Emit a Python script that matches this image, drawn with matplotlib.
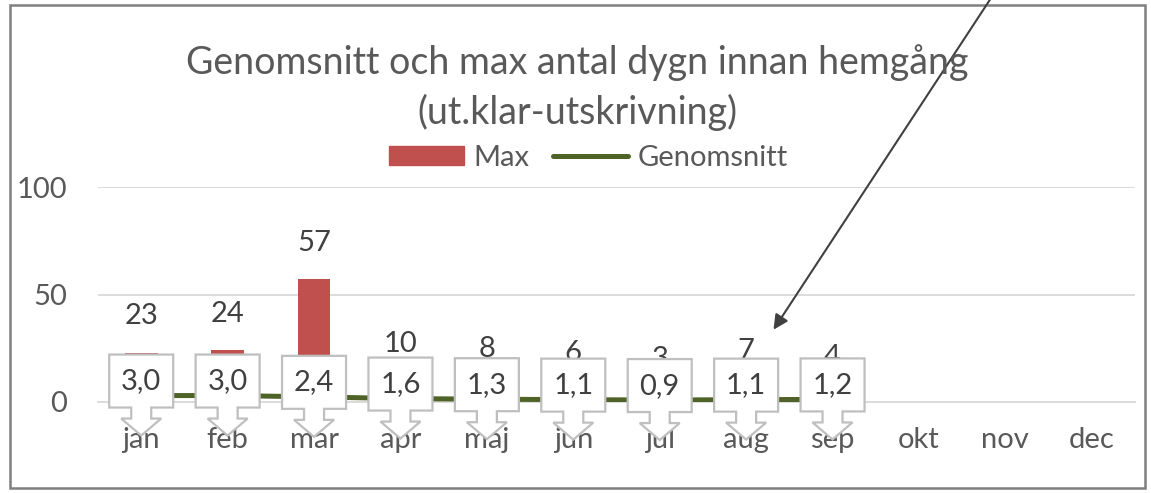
import matplotlib
matplotlib.use("Agg")
import matplotlib.pyplot as plt
import matplotlib.transforms as mtransforms
from matplotlib.patches import Polygon, Rectangle, FancyArrowPatch
from matplotlib.lines import Line2D

months = ["jan", "feb", "mar", "apr", "maj", "jun", "jul", "aug", "sep", "okt", "nov", "dec"]
max_days = [23, 24, 57, 10, 8, 6, 3, 7, 4]
avg_days = [3.0, 3.0, 2.4, 1.6, 1.3, 1.1, 0.9, 1.1, 1.2]
avg_labels = ["3,0", "3,0", "2,4", "1,6", "1,3", "1,1", "0,9", "1,1", "1,2"]
yticks = [0, 50, 100]

RED = "#C0504D"
GREEN = "#4F6228"
TXT = "#595959"
FS = 21
plt.rcParams["font.family"] = ["Lato", "DejaVu Sans"]

W, H = 1151, 493
fig = plt.figure(figsize=(W / 100, H / 100), dpi=100)
ax = fig.add_axes([98 / W, 1 - 402 / H, 1037 / W, 215 / H])

xs = list(range(len(max_days)))
ax.bar(xs, max_days, width=0.38, color=RED, zorder=2)
ax.plot(xs, avg_days, color=GREEN, lw=3.6, zorder=3, solid_capstyle="round")

# bar value labels
for x, v in zip(xs, max_days):
    ax.annotate(str(v), (x, v), xytext=(0, 26), textcoords="offset points",
                ha="center", va="center", fontsize=FS, color="#404040", zorder=2)

# callout labels (box with a down arrow), outline in pixels around the point
callout = [(-32, 41), (32, 41), (32, -12), (10, -12), (10, -23), (20, -23),
           (0, -40), (-20, -23), (-10, -23), (-10, -12), (-32, -12)]
for x, v, lab in zip(xs, avg_days, avg_labels):
    tr = fig.dpi_scale_trans + mtransforms.ScaledTranslation(x, v, ax.transData)
    pts = [(px / 100, py / 100) for px, py in callout]
    ax.add_patch(Polygon(pts, closed=True, transform=tr, facecolor="white",
                         edgecolor="#BFBFBF", lw=1.6, zorder=4, clip_on=False))
    ax.annotate(lab, (x, v), xytext=(0, 14.5 * 0.72), textcoords="offset points",
                ha="center", va="center", fontsize=FS, color="#404040", zorder=5)

ax.set_xlim(-0.5, 11.5)
ax.set_ylim(0, 100)
ax.set_yticks(yticks)
ax.set_xticks(range(12))
ax.set_xticklabels(months)
ax.tick_params(axis="both", length=0, labelsize=FS, labelcolor=TXT)
ax.tick_params(axis="x", pad=18)
ax.tick_params(axis="y", pad=22)
ax.grid(axis="y", color="#D9D9D9", lw=1.3, zorder=0)
ax.set_axisbelow(True)
for s in ["top", "right", "left"]:
    ax.spines[s].set_visible(False)
ax.spines["bottom"].set_color("#D9D9D9")
ax.spines["bottom"].set_linewidth(1.3)

fig.text(577 / W, 1 - 63 / H, "Genomsnitt och max antal dygn innan hemgång",
         ha="center", va="center", fontsize=27, color=TXT)
fig.text(577 / W, 1 - 112 / H, "(ut.klar-utskrivning)",
         ha="center", va="center", fontsize=27, color=TXT)

handles = [Rectangle((0, 0), 1, 1, color=RED),
           Line2D([0], [0], color=GREEN, lw=3.6, solid_capstyle="round")]
fig.legend(handles, ["Max", "Genomsnitt"], loc="center", ncol=2, frameon=False,
           bbox_to_anchor=(588 / W, 1 - 158 / H), fontsize=FS, labelcolor=TXT,
           handlelength=2.6, handleheight=0.65, handletextpad=0.3, columnspacing=0.8)

# outer border
fig.add_artist(Rectangle((10 / W, 1 - 488 / H), 1135 / W, 483 / H, transform=fig.transFigure,
                         fill=False, edgecolor="#7F7F7F", lw=1.8))

# pointer arrow
fig.add_artist(FancyArrowPatch(
    (993 / W, 1 + 5 / H), (772 / W, 1 - 332 / H), transform=fig.transFigure,
    arrowstyle="-|>", mutation_scale=22, color="#404040", lw=1.5))

fig.savefig("out.png", dpi=100)
